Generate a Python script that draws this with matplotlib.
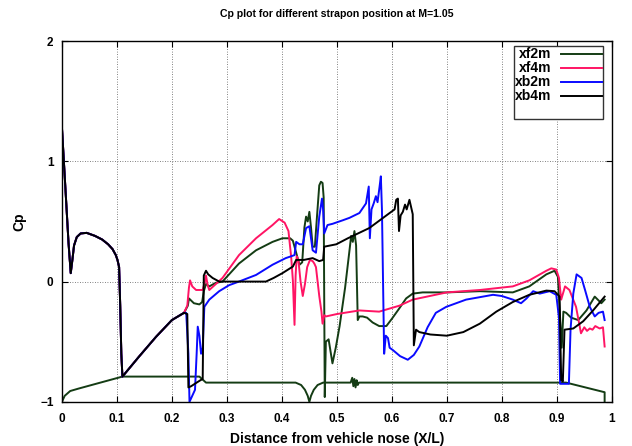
import numpy as np
import matplotlib
matplotlib.use('Agg')
from matplotlib import pyplot as plt
from matplotlib.lines import Line2D

# common part of all curves (nose + first cone)
x_nose = [0.0, 0.006, 0.012, 0.016, 0.019, 0.022, 0.027, 0.034, 0.045, 0.06, 0.073, 0.084, 0.092, 0.098,
          0.101, 0.104, 0.106, 0.108, 0.110, 0.14, 0.171, 0.2, 0.222]
cp_nose = [1.28, 0.80, 0.32, 0.07, 0.18, 0.30, 0.37, 0.40, 0.405, 0.38, 0.35, 0.31, 0.27, 0.22,
           0.18, 0.12, -0.20, -0.60, -0.79, -0.625, -0.46, -0.32, -0.26]

# xf2m
x_xf2m = [0.229, 0.231, 0.240, 0.250, 0.255, 0.258, 0.262, 0.268, 0.280, 0.292, 0.322, 0.353, 0.383, 0.401,
          0.415, 0.420, 0.426, 0.432, 0.437, 0.441, 0.444, 0.447, 0.450, 0.453, 0.456, 0.460, 0.464, 0.468,
          0.471, 0.474, 0.476, 0.478, 0.480, 0.485, 0.492, 0.498, 0.505, 0.515, 0.523, 0.526, 0.529, 0.532,
          0.535, 0.538, 0.541, 0.547, 0.555, 0.565, 0.577, 0.590, 0.600, 0.614, 0.626, 0.638, 0.656, 0.700,
          0.760, 0.820, 0.850, 0.881, 0.896, 0.902, 0.906, 0.909, 0.912, 0.917, 0.926, 0.939, 0.954, 0.969,
          0.981, 0.987]
cp_xf2m = [-0.20, -0.14, -0.18, -0.19, -0.17, -0.08, -0.02, -0.04, -0.01, 0.0, 0.15, 0.26, 0.33, 0.36,
           0.36, 0.34, 0.24, 0.14, 0.16, 0.45, 0.54, 0.50, 0.58, 0.45, 0.29, 0.29, 0.55, 0.80,
           0.83, 0.82, 0.70, -0.96, -0.50, -0.48, -0.68, -0.55, -0.37, -0.05, 0.26, 0.38, 0.33, 0.42,
           0.30, -0.32, -0.29, -0.29, -0.30, -0.34, -0.37, -0.37, -0.31, -0.22, -0.14, -0.10, -0.09, -0.09,
           -0.08, -0.09, -0.04, 0.06, 0.09, 0.04, -0.30, -0.55, -0.25, -0.26, -0.30, -0.32, -0.24, -0.125,
           -0.18, -0.15]

# lower line drawn with xf2m
x_lower = [0.0, 0.005, 0.015, 0.03, 0.11, 0.25, 0.262, 0.425, 0.435, 0.442, 0.447, 0.45, 0.453, 0.458,
           0.465, 0.475, 0.48, 0.525, 0.528, 0.530, 0.532, 0.534, 0.536, 0.538, 0.540, 0.545, 0.917, 0.987,
           0.987]
cp_lower = [-1.0, -0.95, -0.91, -0.89, -0.79, -0.79, -0.84, -0.84, -0.86, -0.90, -0.95, -1.0, -0.95, -0.90,
            -0.86, -0.84, -0.84, -0.84, -0.80, -0.87, -0.81, -0.88, -0.82, -0.86, -0.84, -0.84, -0.84, -0.92,
            -1.0]

# xf4m
x_xf4m = [0.228, 0.231, 0.233, 0.237, 0.244, 0.256, 0.260, 0.262, 0.265, 0.268, 0.280, 0.292, 0.322, 0.353,
          0.383, 0.395, 0.405, 0.412, 0.417, 0.420, 0.423, 0.425, 0.427, 0.430, 0.434, 0.438, 0.442, 0.446,
          0.451, 0.456, 0.459, 0.462, 0.465, 0.468, 0.472, 0.474, 0.477, 0.48, 0.50, 0.541, 0.577, 0.614,
          0.638, 0.70, 0.76, 0.82, 0.85, 0.881, 0.89, 0.899, 0.904, 0.908, 0.915, 0.923, 0.935, 0.944,
          0.95, 0.955, 0.96, 0.965, 0.97, 0.978, 0.984, 0.987]
cp_xf4m = [-0.20, -0.05, 0.01, -0.04, -0.07, -0.07, 0.0, 0.05, -0.03, -0.07, -0.02, 0.03, 0.22, 0.36,
           0.47, 0.52, 0.49, 0.42, 0.20, 0.01, -0.36, 0.05, 0.21, 0.18, 0.0, -0.12, -0.02, 0.12,
           0.18, 0.17, 0.15, 0.12, 0.0, -0.12, -0.25, -0.35, -0.28, -0.29, -0.27, -0.24, -0.25, -0.20,
           -0.15, -0.09, -0.07, -0.04, 0.01, 0.09, 0.11, 0.10, 0.03, -0.15, -0.04, -0.07, -0.21, -0.43,
           -0.38, -0.41, -0.39, -0.40, -0.37, -0.39, -0.38, -0.54]

# xb2m
x_xb2m = [0.226, 0.230, 0.232, 0.236, 0.242, 0.245, 0.247, 0.250, 0.253, 0.256, 0.259, 0.268, 0.286, 0.304,
          0.322, 0.353, 0.383, 0.407, 0.423, 0.426, 0.432, 0.438, 0.444, 0.45, 0.456, 0.462, 0.468, 0.473,
          0.475, 0.477, 0.483, 0.492, 0.511, 0.523, 0.541, 0.553, 0.558, 0.560, 0.563, 0.567, 0.571, 0.574,
          0.578, 0.580, 0.582, 0.586, 0.589, 0.593, 0.596, 0.602, 0.615, 0.629, 0.640, 0.650, 0.665, 0.68,
          0.699, 0.735, 0.784, 0.80, 0.82, 0.835, 0.845, 0.857, 0.869, 0.887, 0.899, 0.904, 0.906, 0.914,
          0.922, 0.925, 0.930, 0.936, 0.945, 0.952, 0.960, 0.969, 0.976, 0.984, 0.987]
cp_xb2m = [-0.26, -0.60, -1.0, -0.96, -0.90, -0.60, -0.375, -0.45, -0.60, -0.55, -0.21, -0.15, -0.08, -0.03,
           0.0, 0.055, 0.14, 0.195, 0.22, 0.33, 0.31, 0.31, 0.445, 0.46, 0.26, 0.24, 0.54, 0.69,
           0.60, 0.40, 0.47, 0.48, 0.51, 0.53, 0.57, 0.65, 0.79, 0.36, 0.60, 0.65, 0.71, 0.66,
           0.80, 0.875, 0.60, -0.60, -0.45, -0.47, -0.55, -0.57, -0.62, -0.65, -0.61, -0.54, -0.38, -0.26,
           -0.21, -0.15, -0.11, -0.12, -0.15, -0.18, -0.14, -0.08, -0.10, -0.08, -0.11, -0.30, -0.85, -0.85,
           -0.85, -0.40, -0.10, 0.06, 0.03, -0.08, -0.21, -0.29, -0.26, -0.25, -0.32]

# xb4m
x_xb4m = [0.228, 0.230, 0.235, 0.245, 0.252, 0.256, 0.258, 0.262, 0.266, 0.274, 0.286, 0.30, 0.34, 0.371,
          0.385, 0.401, 0.42, 0.426, 0.44, 0.456, 0.468, 0.475, 0.477, 0.499, 0.52, 0.559, 0.596, 0.605,
          0.608, 0.611, 0.613, 0.616, 0.62, 0.624, 0.627, 0.632, 0.635, 0.638, 0.640, 0.644, 0.650, 0.670,
          0.700, 0.730, 0.760, 0.790, 0.820, 0.850, 0.881, 0.896, 0.905, 0.908, 0.911, 0.914, 0.930, 0.948,
          0.966, 0.987]
cp_xb4m = [-0.27, -0.88, -0.87, -0.84, -0.82, -0.81, 0.05, 0.09, 0.06, 0.03, 0.0, 0.0, 0.0, 0.0,
           0.03, 0.07, 0.125, 0.18, 0.18, 0.195, 0.17, 0.18, 0.29, 0.31, 0.36, 0.445, 0.57, 0.60,
           0.68, 0.69, 0.42, 0.55, 0.58, 0.64, 0.60, 0.68, 0.62, 0.56, -0.53, -0.40, -0.42, -0.44,
           -0.45, -0.42, -0.35, -0.25, -0.17, -0.11, -0.075, -0.08, -0.125, -0.82, -0.83, -0.40, -0.39, -0.33,
           -0.24, -0.125]

labels = ['xf2m', 'xf4m', 'xb2m', 'xb4m']
colors = ['#143c14', '#ff1464', '#0a0aff', '#000000']
xticks = [0, 0.1, 0.2, 0.3, 0.4, 0.5, 0.6, 0.7, 0.8, 0.9, 1]
xticklabels = ['0', '0.1', '0.2', '0.3', '0.4', '0.5', '0.6', '0.7', '0.8', '0.9', '1']
yticks = [-1, 0, 1, 2]

plt.rcParams['font.family'] = ['Liberation Sans', 'DejaVu Sans']
plt.rcParams['font.weight'] = 'bold'

fig = plt.figure(figsize=(6.32, 4.46), dpi=100)
ax = fig.add_axes([0.098, 0.099, 0.87, 0.809])

series = [(x_xf2m, cp_xf2m), (x_xf4m, cp_xf4m), (x_xb2m, cp_xb2m), (x_xb4m, cp_xb4m)]
handles = []
for i in range(4):
    xs = np.concatenate([x_nose, series[i][0]])
    ys = np.concatenate([cp_nose, series[i][1]])
    h, = ax.plot(xs, ys, color=colors[i], lw=1.4)
    handles.append(h)
    if i == 0:
        ax.plot(x_lower, cp_lower, color=colors[0], lw=1.4)

ax.set_xlim(0, 1)
ax.set_ylim(-1, 2)
ax.set_xticks(xticks)
ax.set_xticklabels(xticklabels)
ax.set_yticks(yticks)
ax.tick_params(direction='in', top=True, right=True, length=4, width=0.8, labelsize=8.5)
ax.tick_params(axis='y', pad=6)
ax.tick_params(axis='x', pad=8)
ax.grid(True, color='0.35', linestyle=(0, (1, 2)), lw=0.6)
for s in ax.spines.values():
    s.set_linewidth(1.0)

ax.set_title('Cp plot for different strapon position at M=1.05', fontsize=7.6, fontweight='bold', pad=17)
ax.set_xlabel('Distance from vehicle nose (X/L)', fontsize=10, fontweight='bold', labelpad=5)
ax.set_ylabel('Cp', fontsize=10, fontweight='bold', labelpad=10)

blank = Line2D([], [], color='none')
leg = ax.legend(handles + [blank], labels + [' '], loc='upper right', bbox_to_anchor=(0.984, 0.986),
                markerfirst=False, fancybox=False, framealpha=1, edgecolor='0.2', fontsize=10,
                handlelength=2.9, labelspacing=0.0, borderpad=0.1, handletextpad=0.7, borderaxespad=0)
leg.get_frame().set_linewidth(1.0)

fig.savefig('out.png', dpi=100)
